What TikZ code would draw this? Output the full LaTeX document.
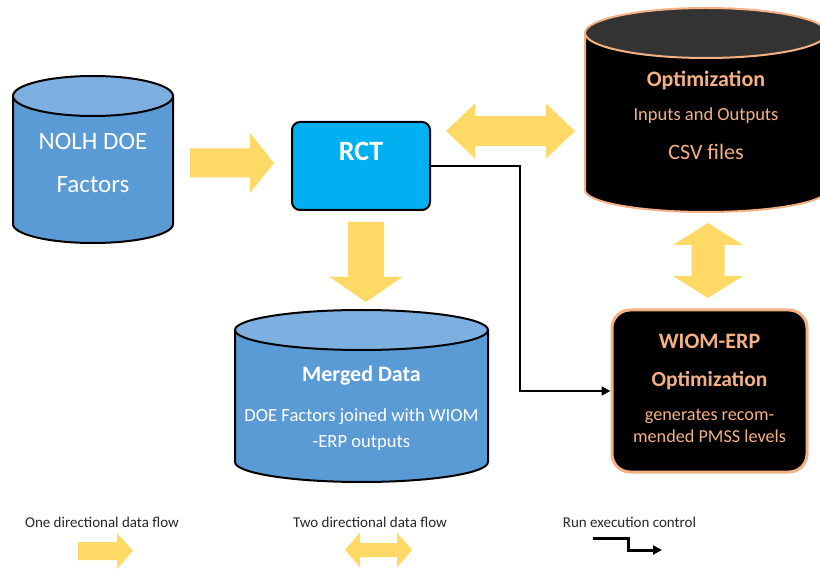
\documentclass[tikz,border=0pt]{standalone}
\usepackage{fontspec}
\setmainfont{Carlito}
\usetikzlibrary{arrows.meta}
\definecolor{cylblue}{HTML}{5B9BD5}
\definecolor{cyltop}{HTML}{7DAFE0}
\definecolor{rctblue}{HTML}{00B0F0}
\definecolor{peach}{HTML}{F4B183}
\definecolor{flow}{HTML}{FFD966}
\definecolor{darktop}{HTML}{333333}
% cylinder: cx, rx, top y, top ry, bottom y, bottom ry, line, body fill, top fill
\newcommand\mycyl[9]{%
  \path[draw=#7, fill=#8, line width=2pt] ({#1-#2},#3) -- ({#1-#2},#5)
     arc[start angle=180, end angle=0, x radius=#2, y radius=#6] -- ({#1+#2},#3) -- cycle;
  \path[draw=#7, fill=#9, line width=2pt] (#1,#3) ellipse [x radius=#2, y radius=#4];}
% right block arrow: tail x, y, tip x, body half, head half, head length
\newcommand\arrR[6]{%
  \fill[flow] (#1,{#2-#4}) -- ({#3-#6},{#2-#4}) -- ({#3-#6},{#2-#5}) -- (#3,#2)
    -- ({#3-#6},{#2+#5}) -- ({#3-#6},{#2+#4}) -- (#1,{#2+#4}) -- cycle;}
% down block arrow: x, tail y, tip y, body half, head half, head length
\newcommand\arrD[6]{%
  \fill[flow] ({#1-#4},#2) -- ({#1-#4},{#3-#6}) -- ({#1-#5},{#3-#6}) -- (#1,#3)
    -- ({#1+#5},{#3-#6}) -- ({#1+#4},{#3-#6}) -- ({#1+#4},#2) -- cycle;}
% horizontal double block arrow: x1, y, x2, body half, head half, head length
\newcommand\arrH[6]{%
  \fill[flow] (#1,#2) -- ({#1+#6},{#2-#5}) -- ({#1+#6},{#2-#4}) -- ({#3-#6},{#2-#4})
    -- ({#3-#6},{#2-#5}) -- (#3,#2) -- ({#3-#6},{#2+#5}) -- ({#3-#6},{#2+#4})
    -- ({#1+#6},{#2+#4}) -- ({#1+#6},{#2+#5}) -- cycle;}
% vertical double block arrow: x, y1, y2, body half, head half, head length
\newcommand\arrV[6]{%
  \fill[flow] (#1,#2) -- ({#1+#5},{#2+#6}) -- ({#1+#4},{#2+#6}) -- ({#1+#4},{#3-#6})
    -- ({#1+#5},{#3-#6}) -- (#1,#3) -- ({#1-#5},{#3-#6}) -- ({#1-#4},{#3-#6})
    -- ({#1-#4},{#2+#6}) -- ({#1-#5},{#2+#6}) -- cycle;}
\begin{document}
\begin{tikzpicture}[x=1pt,y=-1pt,
  wtext/.style={text=white, inner sep=0pt, anchor=base},
  ptext/.style={text=peach, inner sep=0pt, anchor=base},
  ltext/.style={text=black!85, inner sep=0pt, anchor=base, font=\fontsize{15}{18}\selectfont},
  ctrl/.style={draw=black, line width=2.2pt, -{Triangle[length=9pt,width=9pt]}}]
\useasboundingbox (0,0) rectangle (820,569);

% cylinders
\mycyl{93}{80}{96}{20}{224}{19}{black}{cylblue}{cyltop}
\mycyl{361.5}{126.5}{330}{20}{462}{20}{black}{cylblue}{cyltop}
\mycyl{706}{121}{33}{25}{190}{22}{peach}{black}{darktop}

% boxes
\node[draw=black, line width=2pt, fill=rctblue, rounded corners=8pt, minimum width=138pt, minimum height=88pt, inner sep=0pt] (rct) at (361,166) {};
\node[draw=peach, line width=3pt, fill=black, rounded corners=18pt, minimum width=195pt, minimum height=162pt, inner sep=0pt] (wiom) at (709.5,391) {};

% texts
\node[wtext, font=\fontsize{25}{30}\selectfont] (nolh1) at (93,150) {NOLH DOE};
\node[wtext, font=\fontsize{25}{30}\selectfont] (nolh2) at (93,193) {Factors};
\node[wtext, font=\fontsize{28}{32}\bfseries] (rcttext) at (361,161) {RCT};
\node[ptext, font=\fontsize{22}{26}\bfseries] (opt1) at (706,87) {Optimization};
\node[ptext, font=\fontsize{18.5}{22}\selectfont] (opt2) at (706,121) {Inputs and Outputs};
\node[ptext, font=\fontsize{22}{26}\selectfont] (opt3) at (706,160) {CSV files};
\node[wtext, font=\fontsize{22}{26}\bfseries] (mrg1) at (361.5,382) {Merged Data};
\node[wtext, font=\fontsize{18.6}{22}\selectfont] (mrg2) at (361.5,421.5) {DOE Factors joined with WIOM};
\node[wtext, font=\fontsize{18.6}{22}\selectfont] (mrg3) at (361.5,447.5) {-ERP outputs};
\node[ptext, font=\fontsize{22}{26}\bfseries] (w1) at (709.5,349) {WIOM-ERP};
\node[ptext, font=\fontsize{21.5}{26}\bfseries] (w2) at (709.5,387) {Optimization};
\node[ptext, font=\fontsize{18.2}{22}\selectfont] (w3) at (709.5,420.5) {generates recom-};
\node[ptext, font=\fontsize{18.2}{22}\selectfont] (w4) at (709.5,442.5) {mended PMSS levels};

% flow arrows
\arrR{190}{163}{274}{14.5}{30}{24}
\arrD{366}{222}{302}{18}{36.5}{25}
\arrH{446}{131}{575}{15}{27.5}{29}
\arrV{708}{223}{298}{16.5}{35}{22}

% control connector
\coordinate (cbend) at (520,280);
\draw[ctrl] (rct.east) -| (cbend) |- (wiom.west);

% legend
\node[ltext] (lg1) at (102,527.5) {One directional data flow};
\node[ltext] (lg2) at (370,527.5) {Two directional data flow};
\node[ltext] (lg3) at (629.5,527.5) {Run execution control};
\arrR{78}{551}{133}{9}{18}{16}
\arrH{345}{550}{412}{7}{17.5}{15}
\coordinate (lc1) at (593,538);
\coordinate (lcm) at (628,544);
\coordinate (lc2) at (662,550);
\draw[ctrl, line width=3pt] (lc1) -| (lcm) |- (lc2);
\end{tikzpicture}
\end{document}
